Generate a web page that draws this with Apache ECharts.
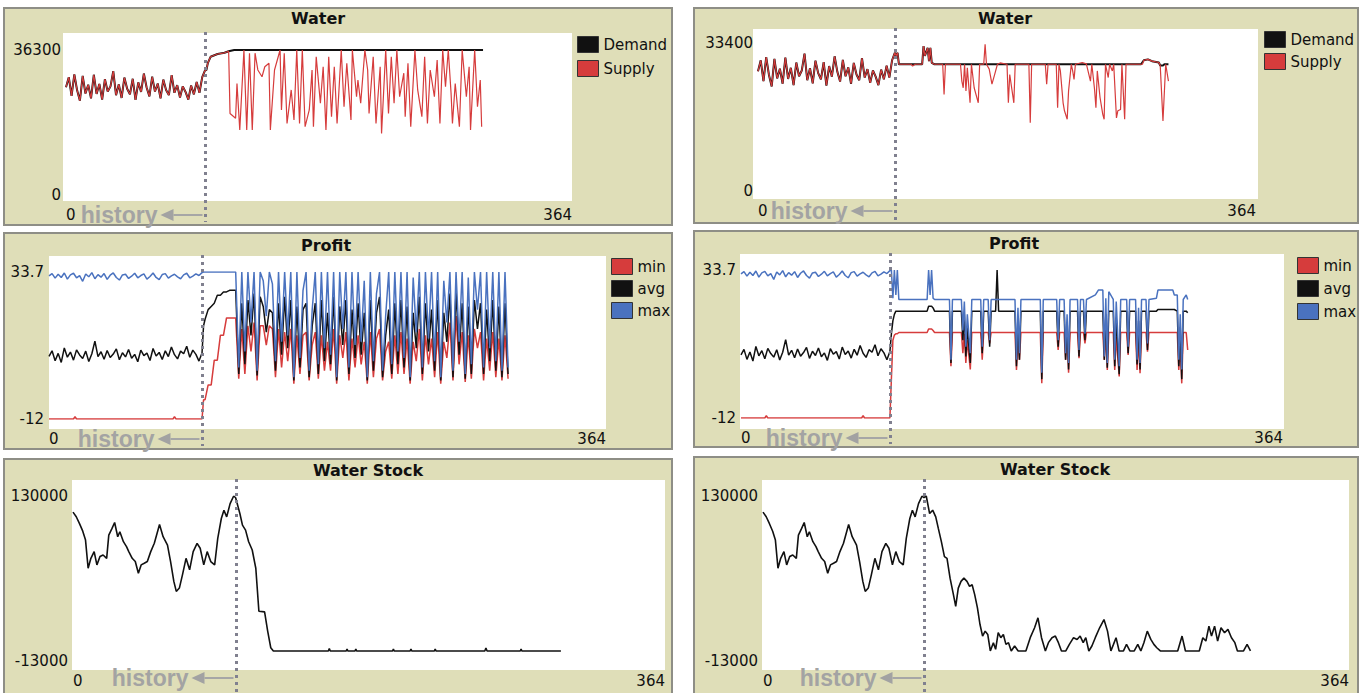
<!DOCTYPE html>
<html><head><meta charset="utf-8">
<script src="https://cdn.jsdelivr.net/npm/echarts@6/dist/echarts.min.js"></script>
<style>html,body{margin:0;padding:0;background:#ffffff;}#c{width:1367px;height:693px;}</style>
</head><body><div id="c"></div>
<script>
// ---------------- DATA ----------------
const HIST_STEP = 2;          // history values are sampled every 2 days (x = 0..100)
const HISTORY_END = 100;      // day where the history ends (dotted line)
const xTicks = [0, 364];
const waterLeftTicks = [0, 36300];
const waterRightTicks = [0, 33400];
const profitTicks = [-12, 33.7];
const stockTicks = [-13000, 130000];

// shared history (identical in both runs)
const waterHistory = [27000,29500,24800,30200,26200,23600,29800,25400,27600,24200,30100,25300,27800,23900,29000,25900,27200,31000,25000,27700,24300,29400,26600,25200,29100,23800,28200,25800,30400,26900,24700,29600,25900,27900,24200,28900,26300,25000,30000,25600,27500,24400,27200,25800,23900,27400,25200,28300,25600,29500,31200];
const profitMaxHistory = [32.5,33.2,31.8,33,32,33.4,31.5,32.8,33.3,31.9,32.6,30.8,33.1,32.2,33.5,31.6,32.9,32.1,33.2,31.4,32.7,33.4,32,31.2,32.8,33,31.7,32.4,33.3,31.9,32.6,33.1,31.5,32.3,33.4,32,31.3,32.9,33.2,31.8,32.5,33,32.2,31.6,32.8,33.3,31.9,32.4,33.1,32.6,33.5];
const profitAvgHistory = [7.5,9.2,6.1,8.4,5.6,10.1,7.2,8.8,6.3,9.5,7.9,6.8,9.1,5.9,8.3,12.2,7.4,8.9,6.6,9.3,7.1,8.2,9.8,6.4,8.6,7.3,9.6,6.9,8.1,5.8,9.4,7.7,8.5,6.2,9.9,7.6,8.7,6.5,9.2,7.4,10.4,8,6.7,9.1,8.3,10.6,7.2,9.4,8.1,6,8.5];
const profitMinHistory = [[0,-12],[16,-12],[17,-11.3],[18,-12],[81,-12],[82,-11.3],[83,-12],[100,-12]];
const stockHistory = [[0,116000],[2,112000],[4,106000],[6,99500],[7.7,91800],[9.3,67400],[11,76000],[13,81800],[14.7,70300],[16.6,77500],[18.5,78900],[20.7,76000],[22,96100],[24,101900],[25.6,107000],[27.5,94700],[28.8,99000],[31,90400],[32.9,86100],[34.3,81800],[36.4,76000],[38.3,73200],[40.2,63100],[41.9,70300],[43.8,71700],[45.7,73200],[47.8,81800],[50,89000],[53.2,105300],[55.4,94700],[58.1,87500],[60,73200],[62,56000],[63.5,47300],[65.4,50200],[67.3,61700],[69.5,76000],[71.7,66000],[73.9,81800],[76.3,89000],[78.2,84700],[80.4,70300],[82.5,81800],[84.7,73200],[87.1,70300],[89,93300],[91.2,110500],[92.8,117700],[94.5,111900],[96.6,123400],[98.8,130000],[100,128500]];

// left run (after history)
const demandLeft = [[101,31300],[102,33000],[104,34600],[109,35300],[114,35600],[117,36000],[121,36300],[300,36300]];
const supplyLeft = [[101,31300],[102,33000],[104,34600],[109,35300],[114,35600],[117,36000],[118,20400],[122,19200],[123,27900],[125,16300],[128,36300],[130,16300],[132,35500],[134,16300],[136,35500],[138,31300],[141,29600],[143,32100],[146,33000],[147,16300],[150,31300],[152,33800],[154,36300],[155,21300],[157,35500],[159,17900],[162,26300],[164,18800],[166,36300],[168,17900],[170,36300],[172,17100],[175,21300],[177,31300],[178,17100],[180,34600],[183,23000],[185,32100],[187,16300],[189,34600],[191,19600],[193,32100],[195,17900],[198,36300],[200,22100],[202,33000],[205,18800],[206,36300],[209,24600],[210,28800],[212,23000],[215,36300],[217,31300],[218,20400],[221,34600],[223,17900],[226,32100],[227,15400],[230,36300],[232,20400],[234,34600],[236,23000],[238,36300],[240,24600],[243,30500],[244,19600],[246,33000],[248,17100],[251,36300],[253,26300],[256,19600],[258,34600],[260,17900],[262,31300],[265,24600],[267,33800],[269,17900],[271,36300],[273,27100],[275,36300],[277,25500],[278,17900],[280,27900],[283,17100],[285,36300],[288,24600],[290,32100],[291,16300],[294,36300],[296,22100],[298,28800],[299,17100]];
const profitLeftX = [100,101,102,104,106,108,110,112,114,116,118,120,122,124,126,128,130,132,134,136,138,140,142,144,146,148,150,152,154,156,158,160,162,164,166,168,170,172,174,176,178,180,182,184,186,188,190,192,194,196,198,200,202,204,206,208,210,212,214,216,218,220,222,224,226,228,230,232,234,236,238,240,242,244,246,248,250,252,254,256,258,260,262,264,266,268,270,272,274,276,278,280,282,284,286,288,290,292,294,296,298,300];
const profitLeftMax = [33.7,33.7,33.7,33.7,33.7,33.7,33.7,33.7,33.7,33.7,33.7,33.7,33.7,4,33.7,9,33.7,18,33.7,3,33.7,31,20,33.7,30,6,33.7,12,33.7,14,33.7,1,33.7,7,28,33.7,3,22,33.7,5,33.7,10,33.7,8,33.7,1,33.7,16,33.7,4,33.7,11,33.7,12,31,1,33.7,6,27,33.7,3,20,33.7,5,33.7,9,33.7,7,33.7,1,32,15,33.7,4,33.7,13,33.7,6,33.7,1,31,18,33.7,3,33.7,12,33.7,2,32,5,33.7,22,33.7,4,33.7,10,33.7,6,33.7,3,33.7,4];
const profitLeftAvg = [8,17,19,22,23,24,26.5,26.5,27.5,27.5,28,28,28,2,24,5,25,14,27,1.5,26,23,15,22,21,3,24,8,26,10,25,0,23,4,22,24,1,17,24,2,25,6,21,5,26,0,23,11,25,2,22,7,24,8,21,0,25,3,21,26,1,14,22,2,24,5,25,4,23,0,21,10,26,2,24,9,22,3,25,0,21,12,27,1,28,8,24,0.5,23,2,25,16,24,2,22,6,25,3,23,1,24,2];
const profitLeftMin = [-12,-6,-6,-1.4,-1.4,6.3,6.3,14,14,19.4,19.4,19.4,19.4,0.5,16,2,17,9,18,0,17,17,11,17,16,1,16,4,15,6,16,-1,14,2,14,15,0,11,15,0.5,14,3,12,3,16,-1,14,7,15,0,13,4,14,5,12,-1,15,1,13,16,0,9,12,0.5,14,2,15,2,13,-1,12,6,16,0,14,5,13,1,15,-1,12,7,18,0,20,5,15,-0.5,14,0.5,16,10,15,0,13,3,15,1,13,0,14,0.5];
const stockLeft = [[102.6,114800],[104.2,104700],[106.1,100400],[108,90400],[110.2,83200],[112.4,67400],[114.3,30100],[117.8,29600],[119.7,12900],[121.6,-1500],[123.2,-4300],[157,-4300],[157.6,-2300],[158.2,-4300],[168,-4300],[168.5,-2600],[169,-4300],[173.4,-4300],[173.9,-2600],[174.4,-4300],[196.5,-4300],[197,-2600],[197.5,-4300],[207.3,-4300],[207.8,-2600],[208.3,-4300],[222.2,-4300],[222.7,-2600],[223.2,-4300],[253.2,-4300],[253.9,-1800],[254.6,-4300],[275,-4300],[275.5,-2600],[276,-4300],[300,-4300]];

// right run (after history)
const demandRight = [[101,30500],[102,31200],[103,28600],[120,28600],[121,32700],[122,30500],[124,32300],[125,29300],[126,32300],[127,28900],[129,28600],[280,28600],[282,29500],[285,29700],[288,29300],[293,29000],[294,28300],[296,28300],[297,28600],[300,28600]];
const supplyRight = [[101,30500],[102,31200],[103,28600],[112,28600],[113,28200],[115,28600],[120,28600],[121,32700],[122,30500],[124,32300],[125,29300],[126,32300],[127,28900],[129,28600],[135,28600],[136,21800],[137,28600],[148,28600],[149,24800],[150,23300],[151,28600],[152,22600],[153,27800],[155,19900],[156,28600],[158,23300],[161,19900],[162,28600],[165,28600],[166,33100],[167,28600],[169,27500],[171,24100],[173,26300],[175,28600],[177,28900],[182,28600],[183,19900],[184,26300],[187,19900],[188,28600],[198,28600],[199,15400],[200,28600],[210,28600],[211,24100],[212,28600],[218,28600],[219,18800],[220,28600],[221,27100],[223,19900],[224,18100],[226,16200],[227,22600],[229,28600],[230,27100],[231,25200],[232,28600],[237,29000],[240,28700],[243,24800],[244,28600],[246,22900],[247,18800],[248,27100],[250,21100],[252,17300],[253,16200],[254,28600],[256,25600],[257,28600],[259,27100],[260,28600],[262,16500],[263,18100],[265,18400],[266,28600],[268,16200],[269,28600],[281,28600],[282,29500],[285,29700],[288,29300],[293,29000],[294,28300],[296,15800],[298,28600],[300,24800]];
const profitRightX = [100,101,102,103,104,105,106,125,126,127,128,129,130,140,141,142,148,149,150,151,152,154,155,161,162,163,166,167,168,171,172,173,184,185,186,187,188,201,202,203,212,213,214,217,218,219,220,221,226,227,228,230,231,232,238,240,243,244,245,246,247,250,251,252,254,255,259,260,261,265,266,267,268,269,272,273,274,279,280,290,291,293,294,295,296,297,299,300];
const profitRightMax = [33,33.7,25,33.7,26,33.7,24.6,24.6,33.7,26,33.7,25,24.6,24.6,6,24.6,24.6,15,24,10,20,8,24.6,24.6,10,24.6,24.6,12,24.6,24.6,24.6,24.6,24.6,6,22,8,24.6,24.6,2,24.6,24.6,12,24.6,24.6,8,20,5,24.6,24.6,9,24.6,24.6,14,24.6,26,27.5,27.5,7,25,5,27,24.6,6,24,4,24.6,24.6,10,24.6,24.6,6,22,5,24.6,24.6,11,24.6,25,27.5,27.5,26,26,6,20,3,24.6,26,24.6];
const profitRightAvg = [8,14,18,20,21,21,21,21,22.5,22.5,22.5,22,21,21,5,21,21,12,20,7,16,5,21,21,8,21,21,10,21,21,33.7,21,21,4,18,6,21,21,0,21,21,10,21,21,6,17,3,21,21,7,21,21,12,21,21,21,21,6,20,3.5,21,21,4,19,1.5,21,21,8,21,21,4.5,18,3,21,21,9,21,21,21.5,21.5,21.5,21,4,16,0,21,21,20.5];
const profitRightMin = [-12,0,12,13.6,14,14,14.4,14.4,15.5,15.5,15.5,15,14.4,14.4,4,14.4,14.4,8,14,5,12,3,14.4,14.4,6,14.4,14.4,11,14.4,14.4,14.4,14.4,14.4,2.8,12,5.9,14.4,14.4,-1.3,14.4,14.4,9,14.4,14.4,5.9,13,2,14.4,14.4,6.5,14.4,14.4,11,14.4,14.4,14.4,14.4,5.9,14,2.8,14.4,14.4,2.8,13,0.8,14.4,14.4,7.5,14.4,14.4,2.8,12,1.8,14.4,14.4,8.5,14.4,14.4,14.4,14.4,14.4,14.4,2.8,10,-1.3,14.4,14.4,9];
const stockRight = [[101.4,130000],[103.5,114800],[105.4,117700],[107.3,111900],[108.9,101900],[110.8,90400],[112.7,77500],[114.3,76000],[116.2,58800],[118.1,45900],[119.7,34400],[121.3,50200],[123,56000],[124.8,58800],[126.7,56000],[128.3,51700],[129.9,53100],[131.5,44500],[133.2,33000],[134.8,18600],[136.4,8600],[138,12900],[139.6,10000],[141.2,-4300],[143.1,2900],[144.5,-2900],[146.1,11500],[147.7,7200],[149.3,10000],[150.9,1400],[152.5,2900],[154.2,-4300],[156.3,0],[158.5,-4300],[163.3,-4300],[166,7200],[168.7,15800],[170.8,24400],[173,7200],[175.4,-4300],[177.3,2900],[179.5,7200],[181.6,8600],[183.5,2900],[185.4,-4300],[188.1,-4300],[190.3,1400],[192.9,7200],[195.1,5700],[197,8600],[198.9,2900],[200.5,7200],[202.4,-4300],[204.3,0],[206.4,7200],[209.1,15800],[211.8,22900],[214,12900],[216.1,-4300],[217.7,1400],[219.3,7200],[221.2,-4300],[223.9,-4300],[225.8,1400],[227.9,-4300],[230.6,-4300],[232.8,1400],[234.7,-4300],[236.6,2900],[238.7,12900],[240.9,5700],[242.8,1400],[244.6,-1500],[246.8,-4300],[257.6,-4300],[260.3,8600],[262.4,-4300],[271,-4300],[273.2,7200],[275.1,4300],[277,17200],[278.6,8600],[280.5,17200],[282.4,4300],[284.5,15800],[286.7,11500],[288.8,14400],[291,7200],[293.1,2900],[294.7,-4300],[298.5,-4300],[300.7,1400],[302.8,-4300]];

// ---------------- BUILD ----------------
const hist = arr => arr.map((v, i) => [i * HIST_STEP, v]);
const zip = (xs, ys) => xs.map((x, i) => [x, ys[i]]);

const FONT = '"DejaVu Sans", Verdana, sans-serif';
const KHAKI = '#dfdeb8';
const RED = '#d63c3c', BLACK = '#111111', BLUE = '#4a72bf';

const panels = [
  {grid:[66,50,506,145],  white:[63,33,509,168],  frame:[4,8,668,217],   title:'Water',       tpos:[318,18],  ticks:waterLeftTicks,  legend:{left:577,top:36,gap:7,data:['Demand','Supply']}},
  {grid:[758,43,498,148], white:[753,29,505,170], frame:[694,8,664,215], title:'Water',       tpos:[1005,18], ticks:waterRightTicks, legend:{left:1264,top:31,gap:5,data:['Demand','Supply']}},
  {grid:[49,272,557,147], white:[49,256,557,173], frame:[4,233,668,216], title:'Profit',      tpos:[326,245], ticks:profitTicks,     legend:{left:611,top:258,gap:5,data:['min','avg','max']}},
  {grid:[741,270,542,148],white:[740,254,544,175],frame:[694,231,664,216],title:'Profit',     tpos:[1014,243],ticks:profitTicks,     legend:{left:1297,top:257,gap:6,data:['min','avg','max']}},
  {grid:[73,496,592,165], white:[72,480,593,190], frame:[4,459,668,240], title:'Water Stock', tpos:[368,470], ticks:stockTicks},
  {grid:[763,496,586,165],white:[762,480,587,190],frame:[694,457,664,240],title:'Water Stock',tpos:[1055,469],ticks:stockTicks}
];

const grids = panels.map(p => ({left:p.grid[0], top:p.grid[1], width:p.grid[2], height:p.grid[3], show:false, containLabel:false, outerBoundsMode:'none'}));
const fmt = v => String(Math.round(v * 10) / 10);
const xAxes = panels.map((p, i) => ({
  type:'value', gridIndex:i, min:xTicks[0], max:xTicks[1], interval:xTicks[1]-xTicks[0], z:3,
  axisLine:{show:false}, axisTick:{show:false}, splitLine:{show:false},
  axisLabel:{margin:12, fontSize:15, fontFamily:FONT, color:'#111', formatter:fmt, alignMinLabel:'left', alignMaxLabel:'right', showMinLabel:true, showMaxLabel:true}
}));
const yAxes = panels.map((p, i) => ({
  type:'value', gridIndex:i, min:p.ticks[0], max:p.ticks[1], interval:p.ticks[1]-p.ticks[0], z:3,
  axisLine:{show:false}, axisTick:{show:false}, splitLine:{show:false},
  axisLabel:{margin:5, fontSize:15, fontFamily:FONT, color:'#111', formatter:fmt, showMinLabel:true, showMaxLabel:true}
}));

function line(name, idx, data, color, width) {
  return {type:'line', name:name, xAxisIndex:idx, yAxisIndex:idx, data:data, symbol:'none', showSymbol:false,
          lineStyle:{color:color, width:width}, itemStyle:{color:color}, z:10, animation:false, clip:true, emphasis:{disabled:true}};
}

const series = [
  line('Demand', 0, hist(waterHistory).concat(demandLeft), BLACK, 2),
  line('Supply', 0, hist(waterHistory).concat(supplyLeft), RED, 1.2),
  line('Demand', 1, hist(waterHistory).concat(demandRight), BLACK, 2),
  line('Supply', 1, hist(waterHistory).concat(supplyRight), RED, 1.2),
  line('min', 2, profitMinHistory.concat(zip(profitLeftX, profitLeftMin)), RED, 1.5),
  line('avg', 2, hist(profitAvgHistory).concat(zip(profitLeftX, profitLeftAvg).slice(1)), BLACK, 1.5),
  line('max', 2, hist(profitMaxHistory).concat(zip(profitLeftX, profitLeftMax).slice(1)), BLUE, 1.5),
  line('min', 3, profitMinHistory.concat(zip(profitRightX, profitRightMin)), RED, 1.5),
  line('avg', 3, hist(profitAvgHistory).concat(zip(profitRightX, profitRightAvg).slice(1)), BLACK, 1.5),
  line('max', 3, hist(profitMaxHistory).concat(zip(profitRightX, profitRightMax).slice(1)), BLUE, 1.5),
  line('stock', 4, stockHistory.concat(stockLeft), BLACK, 1.6),
  line('stock', 5, stockHistory.concat(stockRight), BLACK, 1.6)
];

const legends = panels.filter(p => p.legend).map(p => ({
  data:p.legend.data, orient:'vertical', left:p.legend.left, top:p.legend.top, itemGap:p.legend.gap,
  itemWidth:21, itemHeight:16, icon:'rect', selectedMode:false, z:6, padding:0,
  itemStyle:{borderColor:'#333', borderWidth:1},
  textStyle:{fontSize:15, fontFamily:FONT, color:'#111'}
}));

const chart = echarts.init(document.getElementById('c'), null, {renderer:'svg', width:1367, height:693});
chart.setOption({animation:false, backgroundColor:'#ffffff', grid:grids, xAxis:xAxes, yAxis:yAxes, series:series, legend:legends});

// overlay decoration placed through the axes' own scales
const g = [];
panels.forEach((p, i) => {
  g.push({type:'rect', shape:{x:p.frame[0], y:p.frame[1], width:p.frame[2], height:p.frame[3]}, style:{fill:KHAKI, stroke:'#8e8e86', lineWidth:2}, z:0, silent:true});
  g.push({type:'rect', shape:{x:p.white[0], y:p.white[1], width:p.white[2], height:p.white[3]}, style:{fill:'#ffffff'}, z:1, silent:true});
  g.push({type:'text', x:p.tpos[0], y:p.tpos[1], z:20, silent:true,
          style:{text:p.title, font:'bold 16px ' + FONT, fill:'#111', align:'center', verticalAlign:'middle', textAlign:'center', textVerticalAlign:'middle'}});
  const pt = chart.convertToPixel({gridIndex:i}, [HISTORY_END, p.ticks[0]]);
  const dx = Math.round(pt[0]) + 0.5;
  const ly = Math.min(pt[1] + 20, 678);
  g.push({type:'line', shape:{x1:dx, y1:p.white[1] - 1, x2:dx, y2:Math.min(p.frame[1] + p.frame[3] - 3, 693)}, z:15, silent:true,
          style:{stroke:'#80808f', lineWidth:3, lineDash:[3,4]}});
  g.push({type:'line', shape:{x1:dx - 32, y1:ly, x2:dx - 3, y2:ly}, z:15, silent:true, style:{stroke:'#a6a6a6', lineWidth:2}});
  g.push({type:'polygon', shape:{points:[[dx - 45, ly], [dx - 32, ly - 6], [dx - 32, ly + 6]]}, z:15, silent:true, style:{fill:'#a2a2a2'}});
  g.push({type:'text', x:dx - 48, y:ly, z:20, silent:true,
          style:{text:'history', font:'bold 23px "Liberation Sans", Arial, sans-serif', fill:'#a3a3a3', align:'right', verticalAlign:'middle', textAlign:'right', textVerticalAlign:'middle'}});
});
chart.setOption({graphic:{elements:g}});
</script>
</body></html>
